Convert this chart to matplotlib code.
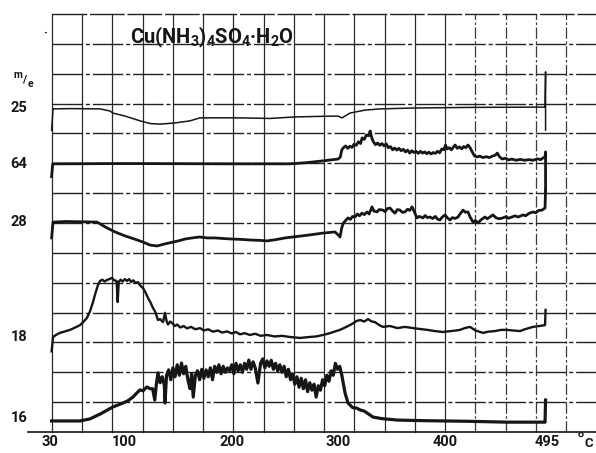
import numpy as np
import matplotlib
matplotlib.use('Agg')
import matplotlib.pyplot as plt

plt.rcParams['font.family'] = ['Roboto', 'DejaVu Sans']
plt.rcParams['font.weight'] = 'bold'
plt.rcParams['mathtext.fontset'] = 'custom'
plt.rcParams['mathtext.rm'] = 'Roboto:bold'
plt.rcParams['mathtext.it'] = 'Roboto:bold'
plt.rcParams['mathtext.bf'] = 'Roboto:bold'

# temperature (deg C) and signal (chart divisions) for each m/e trace
t25 = [31.5, 32.8, 48.7, 76.8, 86.1, 88.9, 100.2, 114.2, 123.6, 132.9, 146.9, 161.0, 170.3, 207.7,
       235.8, 258.3, 282.6, 299.4, 303.2, 310.6, 324.7, 338.7, 369.6, 422.9, 488.4, 493.1, 493.6, 493.6]
m25 = [10.1, 10.82, 10.83, 10.82, 10.75, 10.68, 10.58, 10.42, 10.33, 10.31, 10.35, 10.42, 10.52, 10.52,
       10.50, 10.55, 10.57, 10.58, 10.52, 10.68, 10.78, 10.82, 10.85, 10.87, 10.88, 10.88, 12.06, 10.11]

t64 = [31.5, 32.5, 34, 100, 200, 254, 270, 285.4, 299.4, 301.5, 303, 304.5, 306.5, 308.5, 310.5, 312.5,
       314.5, 316.5, 318.5, 320.5, 322, 324, 326, 328, 329.5, 331, 332.5, 334.5, 336.5, 338.5, 340.5,
       342.5, 344.5, 346.5, 348.5, 350.5, 352.5, 354.5, 356.5, 358.5, 360.5, 362.5, 364.5, 366.5, 368.5,
       370.5, 372.5, 374.5, 376.5, 378.5, 380.5, 382.5, 384.5, 386.5, 388.5, 390.5, 392.5, 394.5, 396.5,
       398.5, 400, 401.5, 403.5, 405.5, 407.5, 409, 411, 413, 415, 417, 419, 421, 423, 425, 427, 429.5,
       432, 435, 438, 441, 444, 446.5, 448.5, 450.5, 453, 456, 459, 462, 466, 470, 474, 478, 482, 486,
       489, 491.2, 493.1, 493.6, 493.6]
m64 = [8.55, 8.98, 8.98, 8.99, 8.98, 8.98, 9.02, 9.08, 9.14, 9.20, 9.45, 9.52, 9.58, 9.50, 9.57, 9.53,
       9.64, 9.60, 9.72, 9.66, 9.85, 9.80, 9.95, 9.92, 10.08, 9.85, 9.72, 9.62, 9.68, 9.60, 9.66,
       9.58, 9.65, 9.52, 9.56, 9.45, 9.51, 9.44, 9.50, 9.42, 9.47, 9.38, 9.44, 9.34, 9.42,
       9.36, 9.40, 9.33, 9.40, 9.34, 9.38, 9.32, 9.37, 9.31, 9.36, 9.33, 9.40, 9.35, 9.48,
       9.45, 9.61, 9.48, 9.52, 9.45, 9.55, 9.61, 9.50, 9.55, 9.48, 9.56, 9.52, 9.61, 9.52, 9.38, 9.25, 9.21,
       9.24, 9.19, 9.22, 9.19, 9.24, 9.27, 9.34, 9.22, 9.14, 9.17, 9.11, 9.14, 9.10, 9.13, 9.10, 9.12, 9.10, 9.15,
       9.12, 9.18, 9.20, 9.38, 8.0]

t28 = [31.5, 32.8, 45, 60, 74, 81.5, 90.8, 100, 110, 117, 123.6, 130.1, 137.6, 145, 150, 156, 163, 170,
       177, 184, 192, 201, 209, 217, 225, 233, 241, 250, 257, 264, 273, 279, 285, 291, 296.6, 299.5,
       301.3, 303, 304.5, 306.5, 308.8, 311, 313, 315.3, 317.5, 319.5, 321.9, 324, 326.6, 328.5, 331.2,
       333, 335.9, 338, 341.5, 343.5, 345.5, 348.1, 350.5, 352.7, 355, 357.4, 359.5, 362.1, 364.5, 366.5,
       368.7, 370.5, 373.3, 375.5, 378.9, 381, 383, 385.5, 388, 390.5, 392.5, 394.8, 397, 399.5, 401.5,
       404.2, 406.5, 409, 411.7, 414, 416.4, 418.5, 421, 423, 425.7, 428, 430.4, 433, 436.9, 439, 441.5,
       444.4, 447, 450, 453.8, 456.5, 459, 462.2, 465, 468, 472.5, 475, 478, 481.8, 484.5, 487, 490.3,
       493.1, 493.6]
m28 = [6.5, 7.03, 7.05, 7.04, 7.03, 6.87, 6.70, 6.57, 6.45, 6.36, 6.26, 6.23, 6.30, 6.36, 6.40, 6.46, 6.50, 6.53,
       6.50, 6.50, 6.48, 6.46, 6.45, 6.43, 6.42, 6.40, 6.44, 6.50, 6.53, 6.56, 6.60, 6.63, 6.66, 6.68, 6.70, 6.60,
       6.53, 6.85, 7.00, 7.08, 7.17, 7.12, 7.22, 7.20, 7.30, 7.24, 7.33, 7.28, 7.37, 7.30, 7.54,
       7.40, 7.37, 7.45, 7.43, 7.38, 7.48, 7.50, 7.40, 7.33, 7.45, 7.43, 7.36, 7.37, 7.46, 7.42,
       7.54, 7.40, 7.17, 7.22, 7.17, 7.25, 7.18, 7.20, 7.15, 7.22, 7.13, 7.10, 7.20, 7.27, 7.18,
       7.10, 7.18, 7.15, 7.20, 7.32, 7.43, 7.36, 7.37, 7.20, 7.03, 7.08, 7.00, 7.10, 7.20, 7.14, 7.20,
       7.27, 7.18, 7.14, 7.17, 7.21, 7.16, 7.20, 7.24, 7.20, 7.27, 7.24, 7.32, 7.37, 7.34, 7.42, 7.43,
       7.50, 8.10]

t18 = [31.5, 32.8, 36, 39.4, 44, 48.7, 53, 58.1, 61, 64.6, 67.5, 70.2, 72.5, 74.9, 76.8, 79, 81, 83.3,
       85.5, 88, 90, 92.3, 93.3, 94.3, 96, 98, 100, 102, 104, 106, 108, 110, 112.3, 114.5, 117, 119.5,
       121.7, 124, 126.4, 128.5, 131, 133, 135.7, 137.6, 139, 140.4, 142.5, 145.1, 147, 148.8, 152, 155,
       158.2, 162, 166, 170.3, 174, 178, 182.5, 187, 191, 195.6, 200, 204, 207.7, 212, 217, 222, 227,
       233, 240, 247, 255, 263.9, 272, 279, 285.4, 291, 296, 301.3, 306, 310.6, 314, 317, 320, 324,
       327.5, 331, 334, 338, 341.5, 348, 355, 362, 369.6, 376, 383, 390, 397.6, 405, 410, 413.6, 418,
       422.9, 428, 435.1, 440, 446.3, 452, 457.5, 463, 469.7, 475, 481.8, 488, 493.1, 493.6]
m18 = [2.7, 3.18, 3.26, 3.32, 3.37, 3.42, 3.49, 3.58, 3.68, 3.82, 4.05, 4.35, 4.65, 4.92, 5.06, 5.10, 5.04, 5.09,
       5.12, 5.16, 5.08, 5.06, 4.35, 5.02, 5.10, 5.04, 5.12, 5.06, 5.12, 5.02, 5.08, 4.99, 5.02, 4.90, 4.82, 4.66,
       4.49, 4.34, 4.15, 4.02, 3.75, 3.78, 3.68, 3.99, 3.72, 3.60, 3.70, 3.62, 3.55, 3.60, 3.50, 3.55,
       3.47, 3.52, 3.44, 3.48, 3.40, 3.44, 3.36, 3.40, 3.33, 3.37, 3.30, 3.35, 3.27, 3.31, 3.25, 3.29, 3.22,
       3.25, 3.20, 3.22, 3.18, 3.15, 3.18, 3.20, 3.25, 3.30, 3.36, 3.42, 3.50, 3.58, 3.65, 3.72, 3.75, 3.70,
       3.78, 3.70, 3.68, 3.58, 3.52, 3.55, 3.48, 3.52, 3.48, 3.45, 3.42, 3.38, 3.35, 3.38, 3.40, 3.42, 3.48,
       3.52, 3.40, 3.32, 3.36, 3.38, 3.42, 3.42, 3.40, 3.38, 3.45, 3.52, 3.55, 3.58, 4.09]

t16 = [31.5, 32.8, 58.1, 67.4, 76.8, 88.9, 98.3, 103, 107.6, 111, 114.2, 117, 120.7, 123.5, 126, 128, 129.5,
       131, 133, 135, 137, 137.6, 139, 141, 143, 145, 147, 149, 151, 153, 155, 157, 159, 161, 162.5, 164,
       166, 168, 170, 172, 174, 176, 178, 180, 182, 184, 186, 188, 190, 192, 194, 196, 198, 200, 202, 204,
       206, 208, 210, 212, 214, 216, 218, 220, 222, 224.5, 227, 229, 231, 233, 235, 237, 239, 241, 243,
       245, 247, 249, 251, 253, 255, 257, 259, 261, 263, 265, 267, 269, 271, 273, 275, 277, 279, 281, 283,
       285, 287, 289, 291, 293, 295, 297, 299, 301, 303, 306.0, 308.8, 313, 317, 320.0, 324, 332.2,
       340, 355, 378.9, 420, 457.5, 493.1, 493.6]
m16 = [0.37, 0.37, 0.37, 0.44, 0.60, 0.84, 0.97, 1.05, 1.17, 1.30, 1.41, 1.38, 1.51, 1.45, 1.45, 1.07, 1.60,
       1.98, 1.65, 1.85, 1.55, 0.97, 1.90, 2.08, 1.75, 2.15, 1.85, 2.25, 1.90, 2.31, 1.95, 2.20, 1.75, 1.45, 1.95, 1.17,
       1.90, 2.05, 1.75, 2.10, 1.80, 2.08, 1.85, 2.15, 1.75, 2.20, 2.00, 2.25, 1.95, 2.20, 2.00, 2.15, 2.05, 2.25, 1.95, 2.30,
       2.05, 2.25, 2.00, 2.30, 2.10, 2.41, 2.10, 2.35, 2.15, 1.64, 2.30, 2.45, 2.15, 2.38, 2.20, 2.40, 2.10, 2.30, 2.05,
       2.25, 2.00, 2.20, 1.85, 2.10, 1.75, 1.95, 1.60, 1.85, 1.50, 1.80, 1.45, 1.75, 1.35, 1.65, 1.40, 1.60, 1.17, 1.55, 1.40,
       1.75, 1.55, 1.90, 1.70, 2.05, 1.90, 2.30, 2.10, 2.20, 1.90, 1.31, 0.97, 0.82, 0.80, 0.74, 0.70, 0.50,
       0.45, 0.40, 0.38, 0.36, 0.33, 0.33, 1.07]

traces = [(t25, m25, 1.1), (t64, m64, 2.0), (t28, m28, 2.0), (t18, m18, 1.7), (t16, m16, 2.3)]
mass_labels = ['25', '64', '28', '18', '16']
label_levels = [10.85, 8.98, 7.03, 3.18, 0.47]
temp_ticks = [30, 100, 200, 300, 400, 495]

ink = '#161616'
fig = plt.figure(figsize=(5.96, 4.53), dpi=100)
ax = fig.add_axes([0, 0, 1, 1])
ax.set_xlim(-16.78, 540.78)
ax.set_ylim(-0.703, 14.467)
ax.axis('off')

# chart paper grid
x0 = 31.87
gx = x0 + 28.29 * np.arange(18)
for k, x in enumerate(gx):
    if k <= 13:
        ax.plot([x, x], [0, 14], color='#2a2a2a', lw=0.9)
    else:
        ax.plot([x, x], [0, 14], color='#3a3a3a', lw=0.9, dashes=(9, 2, 2, 2))
for yy in range(1, 14):
    ax.plot([x0, 540.78], [yy, yy], color='#222222', lw=1.0, dashes=(22, 2, 3, 2))
ax.plot([x0, 540.78], [14, 14], color='#222222', lw=1.0, dashes=(25, 2))
ax.plot([9.4, 540.78], [0, 0], color=ink, lw=1.2)

for t, m, lw in traces:
    ax.plot(t, m, color=ink, lw=lw, solid_joinstyle='round')

for lab, lv in zip(mass_labels, label_levels):
    ax.text(1.0, lv, lab, ha='center', va='center', fontsize=10.5, fontweight='bold', color=ink)

for tt in temp_ticks:
    ax.text(tt, -0.34, str(tt), ha='center', va='center', fontsize=10.5, fontweight='bold', color=ink)

ax.text(526.5, -0.36, '°', ha='center', va='center', fontsize=15, fontweight='bold', color=ink)
ax.text(534.5, -0.38, 'C', ha='center', va='center', fontsize=9.5, fontweight='bold', color=ink)

ax.text(0.0, 11.95, 'm', ha='center', va='center', fontsize=7.5, fontweight='bold', color=ink)
ax.text(6.0, 11.8, '/', ha='center', va='center', fontsize=8, fontweight='bold', color=ink)
ax.text(11.5, 11.65, 'e', ha='center', va='center', fontsize=7.5, fontweight='bold', color=ink)
ax.text(25.3, 13.36, '·', ha='center', va='center', fontsize=9, fontweight='bold', color=ink)

ax.text(181.5, 13.2, 'Cu(NH$_3$)$_4$SO$_4$·H$_2$O', ha='center', va='center',
        fontsize=14.5, fontweight='bold', color=ink)

fig.savefig('out.png', dpi=100)
